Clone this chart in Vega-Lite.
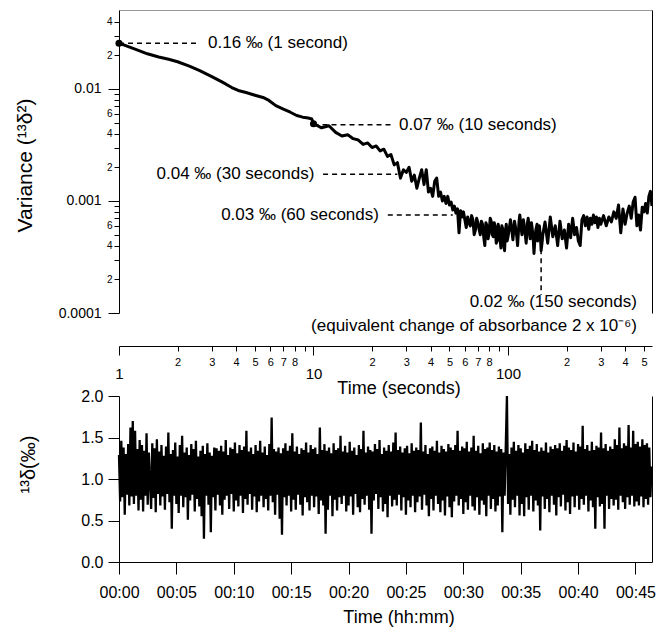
{
"$schema":"https://vega.github.io/schema/vega-lite/v6.json",
"padding":{"top":10,"left":14,"right":10,"bottom":4},
"bounds":"flush",
"spacing":83,
"config":{"view":{"stroke":null},"font":"Liberation Sans","axis":{"grid":false,"domainColor":"black","tickColor":"black","labelColor":"black","titleColor":"black","titleFontWeight":"normal","labelFont":"Liberation Sans","titleFont":"Liberation Sans","labelOverlap":false,"labelFlush":false}},
"vconcat":[
{
"width":533,"height":303,
"layer":[
{
"data":{"values":[
{"t":1,"v":0.0256},{"t":1.2,"v":0.0228},{"t":1.4,"v":0.0206},{"t":1.6,"v":0.0193},{"t":1.8,"v":0.0184},{"t":2.0,"v":0.0175},{"t":2.3,"v":0.0160},{"t":2.6,"v":0.0146},{"t":3.0,"v":0.0129},{"t":3.4,"v":0.0115},{"t":3.8,"v":0.0103},{"t":4.1,"v":0.0097},{"t":4.5,"v":0.0093},{"t":5.0,"v":0.0088},{"t":5.5,"v":0.0084},{"t":5.9,"v":0.0079},{"t":6.4,"v":0.0071},{"t":7.0,"v":0.0066},{"t":7.6,"v":0.0062},{"t":8.2,"v":0.0058},{"t":8.8,"v":0.0056},{"t":9.4,"v":0.0055},{"t":9.8,"v":0.0054},{"t":10,"v":0.0049},{"t":10.5,"v":0.0047},
{"t":11,"v":0.0045},{"t":12,"v":0.0047},{"t":13,"v":0.0041},{"t":14,"v":0.0038},{"t":15,"v":0.0039},{"t":16,"v":0.0036},{"t":17,"v":0.0035},{"t":18,"v":0.0032},{"t":19,"v":0.0033},{"t":20,"v":0.0030},{"t":21,"v":0.0031},{"t":22,"v":0.0028},{"t":23,"v":0.0029},{"t":24,"v":0.0025},{"t":25,"v":0.0026},{"t":26,"v":0.0021},{"t":27,"v":0.0022},{"t":28,"v":0.0016},{"t":29,"v":0.0019},{"t":30,"v":0.0018},{"t":31,"v":0.0020},{"t":32,"v":0.0015},{"t":33,"v":0.0017},{"t":34,"v":0.0013},{"t":35,"v":0.0016},{"t":36,"v":0.0019},{"t":37,"v":0.0014},{"t":38,"v":0.0019},{"t":39,"v":0.0012},{"t":40,"v":0.0013},{"t":41,"v":0.0011},{"t":42,"v":0.0015},{"t":43,"v":0.0016},{"t":44,"v":0.0011},{"t":45,"v":0.0012},{"t":46,"v":0.0010},{"t":47,"v":0.0011},{"t":48,"v":0.00095},{"t":49,"v":0.0011},{"t":50,"v":0.00092},{"t":51,"v":0.00098},{"t":52,"v":0.00083},{"t":53,"v":0.00090},{"t":54,"v":0.00078},{"t":55,"v":0.00085},{"t":56,"v":0.00052},{"t":57,"v":0.00082},{"t":58,"v":0.00072},{"t":59,"v":0.00080},{"t":60,"v":0.00068},
{"t":61,"v":0.00058},{"t":62,"v":0.00072},{"t":63,"v":0.00064},{"t":64,"v":0.00060},{"t":65,"v":0.00074},{"t":66,"v":0.00068},{"t":67,"v":0.00050},{"t":68,"v":0.00055},{"t":69,"v":0.00070},{"t":70,"v":0.00064},{"t":71,"v":0.00056},{"t":72,"v":0.00050},{"t":73,"v":0.00066},{"t":74,"v":0.00062},{"t":75,"v":0.00048},{"t":76,"v":0.00040},{"t":77,"v":0.00064},{"t":78,"v":0.00060},{"t":79,"v":0.00046},{"t":80,"v":0.00052},{"t":81,"v":0.00070},{"t":82,"v":0.00066},{"t":83,"v":0.00050},{"t":84,"v":0.00048},{"t":85,"v":0.00064},{"t":86,"v":0.00058},{"t":87,"v":0.00042},{"t":88,"v":0.00044},{"t":89,"v":0.00062},{"t":90,"v":0.00055},{"t":91,"v":0.00046},{"t":92,"v":0.00038},{"t":93,"v":0.00060},{"t":94,"v":0.00056},{"t":95,"v":0.00042},{"t":96,"v":0.00036},{"t":97,"v":0.00054},{"t":98,"v":0.00062},{"t":99,"v":0.00044},{"t":100,"v":0.00048},
{"t":102,"v":0.00060},{"t":103,"v":0.00068},{"t":105,"v":0.00052},{"t":106,"v":0.00045},{"t":108,"v":0.00066},{"t":109,"v":0.00060},{"t":111,"v":0.00048},{"t":112,"v":0.00040},{"t":114,"v":0.00066},{"t":115,"v":0.00075},{"t":117,"v":0.00056},{"t":118,"v":0.00050},{"t":120,"v":0.00068},{"t":121,"v":0.00062},{"t":123,"v":0.00048},{"t":124,"v":0.00042},{"t":126,"v":0.00064},{"t":127,"v":0.00070},{"t":129,"v":0.00052},{"t":130,"v":0.00046},{"t":132,"v":0.00064},{"t":133,"v":0.00058},{"t":135,"v":0.00044},{"t":136,"v":0.00034},{"t":138,"v":0.00050},{"t":139,"v":0.00055},{"t":141,"v":0.00062},{"t":142,"v":0.00044},{"t":144,"v":0.00052},{"t":145,"v":0.00060},{"t":147,"v":0.00046},{"t":148,"v":0.00036},{"t":150,"v":0.00044},{"t":151,"v":0.00050},
{"t":155,"v":0.00065},{"t":160,"v":0.00042},{"t":165,"v":0.00072},{"t":170,"v":0.00048},{"t":175,"v":0.00060},{"t":180,"v":0.00040},{"t":185,"v":0.00066},{"t":190,"v":0.00046},{"t":195,"v":0.00055},{"t":200,"v":0.00038},{"t":205,"v":0.00062},{"t":210,"v":0.00047},{"t":215,"v":0.00070},{"t":220,"v":0.00050},{"t":225,"v":0.00058},{"t":230,"v":0.00044},{"t":235,"v":0.00040},{"t":240,"v":0.00068},{"t":245,"v":0.00074},{"t":250,"v":0.00060},{"t":255,"v":0.00072},{"t":260,"v":0.00056},{"t":265,"v":0.00070},{"t":270,"v":0.00062},{"t":275,"v":0.00075},{"t":280,"v":0.00064},{"t":285,"v":0.00072},{"t":290,"v":0.00058},{"t":295,"v":0.00070},{"t":300,"v":0.00062},
{"t":310,"v":0.00074},{"t":320,"v":0.00060},{"t":330,"v":0.00072},{"t":340,"v":0.00065},{"t":350,"v":0.00080},{"t":360,"v":0.00070},{"t":370,"v":0.00092},{"t":380,"v":0.00052},{"t":390,"v":0.00085},{"t":400,"v":0.00062},{"t":410,"v":0.00078},{"t":420,"v":0.00090},{"t":430,"v":0.00070},{"t":440,"v":0.00098},{"t":450,"v":0.00108},{"t":460,"v":0.00060},{"t":470,"v":0.00075},{"t":480,"v":0.00055},{"t":490,"v":0.00088},{"t":500,"v":0.00080},{"t":510,"v":0.00095},{"t":520,"v":0.00078},{"t":530,"v":0.00110},{"t":540,"v":0.00122},{"t":550,"v":0.00090}
]},
"mark":{"type":"line","color":"black","strokeWidth":3,"strokeJoin":"round","clip":true},
"encoding":{
"x":{"field":"t","type":"quantitative","scale":{"type":"log","domain":[1,550],"nice":false},
"axis":{"title":"Time (seconds)","offset":33,"values":[1,2,3,4,5,6,7,8,9,10,20,30,40,50,60,70,80,90,100,200,300,400,500],
"labelExpr":"round(datum.value/pow(10,floor(log(datum.value)/LN10+1e-6)))==1 ? ''+datum.value : (round(datum.value/pow(10,floor(log(datum.value)/LN10+1e-6)))<9 ? ''+round(datum.value/pow(10,floor(log(datum.value)/LN10+1e-6))) : '')",
"labelFontSize":{"condition":{"test":"round(datum.value/pow(10,floor(log(datum.value)/LN10+1e-6)))==1","value":15},"value":11},
"tickSize":{"condition":{"test":"round(datum.value/pow(10,floor(log(datum.value)/LN10+1e-6)))==1","value":9},"value":5},
"labelPadding":{"condition":{"test":"round(datum.value/pow(10,floor(log(datum.value)/LN10+1e-6)))==1","value":11},"value":5},
"titleFontSize":18,"titleX":279.5,"titleY":42,"titleBaseline":"middle"}},
"y":{"field":"v","type":"quantitative","scale":{"type":"log","domain":[0.0001,0.0507],"nice":false},
"axis":{"title":"Variance (¹³δ²)","values":[0.0001,0.0002,0.0003,0.0004,0.0005,0.0006,0.0007,0.0008,0.0009,0.001,0.002,0.003,0.004,0.005,0.006,0.007,0.008,0.009,0.01,0.02,0.03,0.04],
"labelExpr":"round(datum.value/pow(10,floor(log(datum.value)/LN10+1e-6)))==1 ? ''+datum.value : ((round(datum.value/pow(10,floor(log(datum.value)/LN10+1e-6)))==2 || round(datum.value/pow(10,floor(log(datum.value)/LN10+1e-6)))==4 || round(datum.value/pow(10,floor(log(datum.value)/LN10+1e-6)))==6) ? ''+round(datum.value/pow(10,floor(log(datum.value)/LN10+1e-6))) : '')",
"labelFontSize":{"condition":{"test":"round(datum.value/pow(10,floor(log(datum.value)/LN10+1e-6)))==1","value":14},"value":10},
"tickSize":{"condition":{"test":"round(datum.value/pow(10,floor(log(datum.value)/LN10+1e-6)))==1","value":11},"value":5},
"labelPadding":{"condition":{"test":"round(datum.value/pow(10,floor(log(datum.value)/LN10+1e-6)))==1","value":7},"value":2},
"titleFontSize":21,"titleX":-93.5,"titleY":155,"titleBaseline":"middle"}}
}
},
{
"data":{"values":[{"x1":1,"x2":2.6,"y":0.0256},{"x1":10,"x2":25.6,"y":0.0048},{"x1":11.2,"x2":27,"y":0.00173},{"x1":24.1,"x2":52,"y":0.00075}]},
"mark":{"type":"rule","color":"black","strokeWidth":1.5,"strokeDash":[5,4]},
"encoding":{
"x":{"field":"x1","type":"quantitative","axis":{"orient":"top","ticks":false,"labels":false,"title":null,"domainColor":"#999999"}},
"x2":{"field":"x2"},
"y":{"field":"y","type":"quantitative","axis":{"orient":"right","ticks":false,"labels":false,"title":null,"domainColor":"black"}}
}
},
{
"data":{"values":[{"x":148,"y1":0.00037,"y2":0.000145}]},
"mark":{"type":"rule","color":"black","strokeWidth":1.5,"strokeDash":[5,4]},
"encoding":{"x":{"field":"x","type":"quantitative","axis":null},"y":{"field":"y1","type":"quantitative","axis":null},"y2":{"field":"y2"}}
},
{
"data":{"values":[{"t":1,"v":0.0256},{"t":10,"v":0.0049}]},
"mark":{"type":"point","filled":true,"color":"black","size":50,"opacity":1},
"encoding":{"x":{"field":"t","type":"quantitative","axis":null},"y":{"field":"v","type":"quantitative","axis":null}}
},
{
"data":{"values":[{"t":2.87,"v":0.0256,"label":"0.16 ‰ (1 second)"},{"t":27.5,"v":0.0048,"label":"0.07 ‰ (10 seconds)"}]},
"mark":{"type":"text","align":"left","baseline":"middle","fontSize":17,"font":"Liberation Sans","color":"black"},
"encoding":{"x":{"field":"t","type":"quantitative","axis":null},"y":{"field":"v","type":"quantitative","axis":null},"text":{"field":"label"}}
},
{
"data":{"values":[{"t":10.1,"v":0.00174,"label":"0.04 ‰ (30 seconds)"},{"t":21.7,"v":0.00075,"label":"0.03 ‰ (60 seconds)"},{"t":460,"v":0.000125,"label":"0.02 ‰ (150 seconds)"},{"t":460,"v":0.0000766,"label":"(equivalent change of absorbance 2 x 10⁻⁶)"}]},
"mark":{"type":"text","align":"right","baseline":"middle","fontSize":17,"font":"Liberation Sans","color":"black"},
"encoding":{"x":{"field":"t","type":"quantitative","axis":null},"y":{"field":"v","type":"quantitative","axis":null},"text":{"field":"label"}}
}
],
"resolve":{"axis":{"x":"independent","y":"independent"}}
},
{
"width":533,"height":166,
"layer":[
{
"data":{"values":[
{"t":0.0,"v":1.29},{"t":0.1,"v":0.73},{"t":0.2,"v":1.46},{"t":0.3,"v":0.78},{"t":0.4,"v":1.38},{"t":0.5,"v":0.57},{"t":0.6,"v":1.30},{"t":0.7,"v":0.81},{"t":0.8,"v":1.42},{"t":0.9,"v":0.68},
{"t":1.0,"v":1.62},{"t":1.1,"v":0.79},{"t":1.2,"v":1.70},{"t":1.3,"v":0.70},{"t":1.4,"v":1.58},{"t":1.5,"v":0.80},{"t":1.6,"v":1.36},{"t":1.7,"v":0.62},{"t":1.8,"v":1.47},{"t":1.9,"v":0.75},
{"t":2.0,"v":1.41},{"t":2.1,"v":0.61},{"t":2.2,"v":1.34},{"t":2.3,"v":0.80},{"t":2.4,"v":1.55},{"t":2.5,"v":0.69},{"t":2.6,"v":1.32},{"t":2.8,"v":0.64},{"t":2.9,"v":1.43},
{"t":3.0,"v":0.77},{"t":3.1,"v":1.37},{"t":3.2,"v":0.60},{"t":3.3,"v":1.48},{"t":3.4,"v":0.82},{"t":3.5,"v":1.33},{"t":3.6,"v":0.68},{"t":3.7,"v":1.41},{"t":3.8,"v":0.79},{"t":3.9,"v":1.28},
{"t":4.0,"v":0.63},{"t":4.1,"v":1.39},{"t":4.2,"v":0.82},{"t":4.3,"v":1.56},{"t":4.4,"v":0.72},{"t":4.5,"v":1.30},{"t":4.6,"v":0.40},{"t":4.7,"v":1.35},{"t":4.8,"v":0.80},{"t":4.9,"v":1.44},
{"t":5.0,"v":0.70},{"t":5.1,"v":1.27},{"t":5.2,"v":0.59},{"t":5.3,"v":1.41},{"t":5.4,"v":0.80},{"t":5.5,"v":1.52},{"t":5.6,"v":0.66},{"t":5.7,"v":1.32},{"t":5.8,"v":0.78},{"t":5.9,"v":1.38},
{"t":6.0,"v":0.51},{"t":6.1,"v":1.29},{"t":6.2,"v":0.74},{"t":6.3,"v":1.42},{"t":6.4,"v":0.81},{"t":6.5,"v":1.36},{"t":6.6,"v":0.61},{"t":6.7,"v":1.46},{"t":6.8,"v":0.76},{"t":6.9,"v":1.27},
{"t":7.0,"v":0.67},{"t":7.1,"v":1.34},{"t":7.2,"v":0.55},{"t":7.3,"v":1.40},{"t":7.4,"v":0.28},{"t":7.5,"v":1.30},{"t":7.6,"v":0.80},{"t":7.7,"v":1.43},{"t":7.8,"v":0.69},{"t":7.9,"v":1.32},
{"t":8.0,"v":0.36},{"t":8.1,"v":1.28},{"t":8.2,"v":0.78},{"t":8.3,"v":1.38},{"t":8.4,"v":0.62},{"t":8.5,"v":1.37},{"t":8.6,"v":0.81},{"t":8.7,"v":1.34},{"t":8.8,"v":0.68},{"t":8.9,"v":1.40},
{"t":9.0,"v":0.57},{"t":9.1,"v":1.33},{"t":9.2,"v":0.75},{"t":9.3,"v":1.47},{"t":9.4,"v":0.80},{"t":9.5,"v":1.29},{"t":9.6,"v":0.64},{"t":9.7,"v":1.38},{"t":9.8,"v":0.82},{"t":9.9,"v":1.36},
{"t":10.0,"v":0.61},{"t":10.1,"v":1.44},{"t":10.2,"v":0.74},{"t":10.3,"v":1.31},{"t":10.4,"v":0.67},{"t":10.5,"v":1.41},{"t":10.6,"v":0.80},{"t":10.7,"v":1.35},{"t":10.8,"v":0.59},{"t":10.9,"v":1.39},
{"t":11.0,"v":0.76},{"t":11.1,"v":1.58},{"t":11.2,"v":0.69},{"t":11.3,"v":1.33},{"t":11.4,"v":0.82},{"t":11.5,"v":1.38},{"t":11.6,"v":0.63},{"t":11.7,"v":1.30},{"t":11.8,"v":0.79},{"t":11.9,"v":1.41},
{"t":12.0,"v":0.60},{"t":12.1,"v":1.34},{"t":12.2,"v":0.73},{"t":12.3,"v":1.46},{"t":12.4,"v":0.80},{"t":12.5,"v":1.32},{"t":12.6,"v":0.66},{"t":12.7,"v":1.39},{"t":12.8,"v":0.76},{"t":12.9,"v":1.29},
{"t":13.0,"v":0.62},{"t":13.1,"v":1.42},{"t":13.2,"v":0.80},{"t":13.3,"v":1.74},{"t":13.4,"v":0.72},{"t":13.5,"v":1.36},{"t":13.6,"v":0.57},{"t":13.7,"v":1.33},{"t":13.8,"v":0.81},{"t":13.9,"v":1.38},
{"t":14.0,"v":0.52},{"t":14.1,"v":1.31},{"t":14.2,"v":0.33},{"t":14.3,"v":1.37},{"t":14.4,"v":0.78},{"t":14.5,"v":1.43},{"t":14.6,"v":0.68},{"t":14.7,"v":1.34},{"t":14.8,"v":0.80},{"t":14.9,"v":1.40},
{"t":15.0,"v":0.61},{"t":15.1,"v":1.55},{"t":15.2,"v":0.75},{"t":15.3,"v":1.33},{"t":15.4,"v":0.63},{"t":15.5,"v":1.39},{"t":15.6,"v":0.81},{"t":15.7,"v":1.30},{"t":15.8,"v":0.69},{"t":15.9,"v":1.37},
{"t":16.0,"v":0.56},{"t":16.1,"v":1.35},{"t":16.2,"v":0.78},{"t":16.3,"v":1.44},{"t":16.4,"v":0.72},{"t":16.5,"v":1.32},{"t":16.6,"v":0.62},{"t":16.7,"v":1.41},{"t":16.8,"v":0.80},{"t":16.9,"v":1.36},
{"t":17.0,"v":0.66},{"t":17.1,"v":1.38},{"t":17.2,"v":0.79},{"t":17.3,"v":1.30},{"t":17.4,"v":0.58},{"t":17.5,"v":1.62},{"t":17.6,"v":0.74},{"t":17.7,"v":1.35},{"t":17.8,"v":0.68},{"t":17.9,"v":1.42},
{"t":18.0,"v":0.34},{"t":18.1,"v":1.34},{"t":18.2,"v":0.63},{"t":18.3,"v":1.38},{"t":18.4,"v":0.80},{"t":18.5,"v":1.31},{"t":18.6,"v":0.55},{"t":18.7,"v":1.43},{"t":18.8,"v":0.75},{"t":18.9,"v":1.35},
{"t":19.0,"v":0.62},{"t":19.1,"v":1.37},{"t":19.2,"v":0.78},{"t":19.3,"v":1.52},{"t":19.4,"v":0.70},{"t":19.5,"v":1.33},{"t":19.6,"v":0.80},{"t":19.7,"v":1.40},{"t":19.8,"v":0.61},{"t":19.9,"v":1.32},
{"t":20.0,"v":0.68},{"t":20.1,"v":1.45},{"t":20.2,"v":0.79},{"t":20.3,"v":1.34},{"t":20.4,"v":0.57},{"t":20.5,"v":1.38},{"t":20.6,"v":0.82},{"t":20.7,"v":1.29},{"t":20.8,"v":0.66},{"t":20.9,"v":1.41},
{"t":21.0,"v":0.60},{"t":21.1,"v":1.36},{"t":21.2,"v":0.76},{"t":21.3,"v":1.58},{"t":21.4,"v":0.69},{"t":21.5,"v":1.32},{"t":21.6,"v":0.80},{"t":21.7,"v":1.39},{"t":21.8,"v":0.63},{"t":21.9,"v":1.35},
{"t":22.0,"v":0.34},{"t":22.1,"v":1.33},{"t":22.2,"v":0.74},{"t":22.3,"v":1.42},{"t":22.4,"v":0.82},{"t":22.5,"v":1.36},{"t":22.6,"v":0.64},{"t":22.7,"v":1.47},{"t":22.8,"v":0.78},{"t":22.9,"v":1.30},
{"t":23.0,"v":0.61},{"t":23.1,"v":1.38},{"t":23.2,"v":0.70},{"t":23.3,"v":1.34},{"t":23.4,"v":0.54},{"t":23.5,"v":1.41},{"t":23.6,"v":0.80},{"t":23.7,"v":1.33},{"t":23.8,"v":0.67},{"t":23.9,"v":1.44},
{"t":24.0,"v":0.75},{"t":24.1,"v":1.56},{"t":24.2,"v":0.68},{"t":24.3,"v":1.35},{"t":24.4,"v":0.81},{"t":24.5,"v":1.39},{"t":24.6,"v":0.62},{"t":24.7,"v":1.32},{"t":24.8,"v":0.78},{"t":24.9,"v":1.37},
{"t":25.0,"v":0.57},{"t":25.1,"v":1.40},{"t":25.2,"v":0.74},{"t":25.3,"v":1.31},{"t":25.4,"v":0.66},{"t":25.5,"v":1.43},{"t":25.6,"v":0.80},{"t":25.7,"v":1.34},{"t":25.8,"v":0.60},{"t":25.9,"v":1.38},
{"t":26.0,"v":0.72},{"t":26.1,"v":1.35},{"t":26.2,"v":0.79},{"t":26.3,"v":1.68},{"t":26.4,"v":0.63},{"t":26.5,"v":1.33},{"t":26.6,"v":0.81},{"t":26.7,"v":1.41},{"t":26.8,"v":0.68},{"t":26.9,"v":1.30},
{"t":27.0,"v":0.55},{"t":27.1,"v":1.37},{"t":27.2,"v":0.76},{"t":27.3,"v":1.39},{"t":27.4,"v":0.62},{"t":27.5,"v":1.34},{"t":27.6,"v":0.80},{"t":27.7,"v":1.46},{"t":27.8,"v":0.70},{"t":27.9,"v":1.32},
{"t":28.0,"v":0.60},{"t":28.1,"v":1.40},{"t":28.2,"v":0.74},{"t":28.3,"v":1.36},{"t":28.4,"v":0.56},{"t":28.5,"v":1.33},{"t":28.6,"v":0.79},{"t":28.7,"v":1.42},{"t":28.8,"v":0.66},{"t":28.9,"v":1.38},
{"t":29.0,"v":0.54},{"t":29.1,"v":1.35},{"t":29.2,"v":0.73},{"t":29.3,"v":1.41},{"t":29.4,"v":0.80},{"t":29.5,"v":1.58},{"t":29.6,"v":0.68},{"t":29.7,"v":1.34},{"t":29.8,"v":0.76},{"t":29.9,"v":1.39},
{"t":30.0,"v":0.58},{"t":30.1,"v":1.37},{"t":30.2,"v":0.72},{"t":30.3,"v":1.45},{"t":30.4,"v":0.63},{"t":30.5,"v":1.33},{"t":30.6,"v":0.80},{"t":30.7,"v":1.38},{"t":30.8,"v":0.67},{"t":30.9,"v":1.52},
{"t":31.0,"v":0.62},{"t":31.1,"v":1.34},{"t":31.2,"v":0.78},{"t":31.3,"v":1.40},{"t":31.4,"v":0.57},{"t":31.5,"v":1.31},{"t":31.6,"v":0.74},{"t":31.7,"v":1.43},{"t":31.8,"v":0.69},{"t":31.9,"v":1.36},
{"t":32.0,"v":0.55},{"t":32.1,"v":1.38},{"t":32.2,"v":0.80},{"t":32.3,"v":1.44},{"t":32.4,"v":0.64},{"t":32.5,"v":1.35},{"t":32.6,"v":0.76},{"t":32.7,"v":1.41},{"t":32.8,"v":0.61},{"t":32.9,"v":1.33},
{"t":33.0,"v":0.68},{"t":33.1,"v":1.39},{"t":33.2,"v":0.79},{"t":33.3,"v":1.36},{"t":33.4,"v":0.36},{"t":33.5,"v":1.32},{"t":33.6,"v":0.80},{"t":33.8,"v":2.00},{"t":33.9,"v":0.70},
{"t":34.0,"v":1.30},{"t":34.1,"v":0.57},{"t":34.2,"v":1.38},{"t":34.3,"v":0.75},{"t":34.4,"v":1.45},{"t":34.5,"v":0.66},{"t":34.6,"v":1.34},{"t":34.7,"v":0.80},{"t":34.8,"v":1.41},{"t":34.9,"v":0.56},
{"t":35.0,"v":1.37},{"t":35.1,"v":0.70},{"t":35.2,"v":1.32},{"t":35.3,"v":0.55},{"t":35.4,"v":1.43},{"t":35.5,"v":0.78},{"t":35.6,"v":1.36},{"t":35.7,"v":0.63},{"t":35.8,"v":1.40},{"t":35.9,"v":0.80},
{"t":36.0,"v":1.46},{"t":36.1,"v":0.61},{"t":36.2,"v":1.35},{"t":36.3,"v":0.74},{"t":36.4,"v":1.42},{"t":36.5,"v":0.68},{"t":36.6,"v":1.33},{"t":36.7,"v":0.38},{"t":36.8,"v":1.38},{"t":36.9,"v":0.79},
{"t":37.0,"v":1.34},{"t":37.1,"v":0.64},{"t":37.2,"v":1.44},{"t":37.3,"v":0.76},{"t":37.4,"v":1.32},{"t":37.5,"v":0.60},{"t":37.6,"v":1.39},{"t":37.7,"v":0.80},{"t":37.8,"v":1.36},{"t":37.9,"v":0.69},
{"t":38.0,"v":1.41},{"t":38.1,"v":0.56},{"t":38.2,"v":1.37},{"t":38.3,"v":0.78},{"t":38.4,"v":1.43},{"t":38.5,"v":0.67},{"t":38.6,"v":1.34},{"t":38.7,"v":0.81},{"t":38.8,"v":1.40},{"t":38.9,"v":0.62},
{"t":39.0,"v":1.47},{"t":39.1,"v":0.72},{"t":39.2,"v":1.38},{"t":39.3,"v":0.58},{"t":39.4,"v":1.35},{"t":39.5,"v":0.79},{"t":39.6,"v":1.44},{"t":39.7,"v":0.66},{"t":39.8,"v":1.33},{"t":39.9,"v":0.80},
{"t":40.0,"v":1.42},{"t":40.1,"v":0.63},{"t":40.2,"v":1.39},{"t":40.3,"v":0.76},{"t":40.4,"v":1.64},{"t":40.5,"v":0.69},{"t":40.6,"v":1.36},{"t":40.7,"v":0.80},{"t":40.8,"v":1.41},{"t":40.9,"v":0.61},
{"t":41.0,"v":1.34},{"t":41.1,"v":0.74},{"t":41.2,"v":1.45},{"t":41.3,"v":0.66},{"t":41.4,"v":1.35},{"t":41.5,"v":0.40},{"t":41.6,"v":1.40},{"t":41.7,"v":0.78},{"t":41.8,"v":1.38},{"t":41.9,"v":0.67},
{"t":42.0,"v":1.56},{"t":42.1,"v":0.70},{"t":42.2,"v":1.37},{"t":42.3,"v":0.40},{"t":42.4,"v":1.42},{"t":42.5,"v":0.80},{"t":42.6,"v":1.34},{"t":42.7,"v":0.64},{"t":42.8,"v":1.39},{"t":42.9,"v":0.76},
{"t":43.0,"v":1.36},{"t":43.1,"v":0.68},{"t":43.2,"v":1.48},{"t":43.3,"v":0.75},{"t":43.4,"v":1.41},{"t":43.5,"v":0.63},{"t":43.6,"v":1.62},{"t":43.7,"v":0.80},{"t":43.8,"v":1.37},{"t":43.9,"v":0.72},
{"t":44.0,"v":1.43},{"t":44.1,"v":0.64},{"t":44.2,"v":1.40},{"t":44.3,"v":0.78},{"t":44.4,"v":1.65},{"t":44.5,"v":0.69},{"t":44.6,"v":1.38},{"t":44.7,"v":0.80},{"t":44.8,"v":1.58},{"t":44.9,"v":0.67},
{"t":45.0,"v":1.42},{"t":45.1,"v":0.73},{"t":45.2,"v":1.45},{"t":45.3,"v":0.68},{"t":45.4,"v":1.39},{"t":45.5,"v":0.79},{"t":45.6,"v":1.48},{"t":45.7,"v":0.66},{"t":45.8,"v":1.41},{"t":45.9,"v":0.76},
{"t":46.0,"v":1.43},{"t":46.1,"v":0.69},{"t":46.2,"v":1.38},{"t":46.3,"v":0.78},{"t":46.4,"v":1.15}
]},
"mark":{"type":"line","color":"black","strokeWidth":2.3},
"encoding":{
"x":{"field":"t","type":"quantitative","scale":{"domain":[0,46.44],"nice":false,"zero":false},
"axis":{"title":"Time (hh:mm)","values":[0,5,10,15,20,25,30,35,40,45],"labelExpr":"'00:' + (datum.value < 10 ? '0' : '') + datum.value","tickSize":12,"labelPadding":10,"labelFontSize":16,"titleFontSize":18,"titleX":279.5,"titleY":55,"titleBaseline":"middle"}},
"y":{"field":"v","type":"quantitative","scale":{"domain":[0,2],"nice":false},
"axis":{"title":"¹³δ(‰)","values":[0,0.5,1,1.5,2],"format":".1f","tickSize":11,"labelPadding":5,"labelFontSize":16,"titleFontSize":20,"titleX":-90.5,"titleY":68,"titleBaseline":"middle"}}
}
},
{
"data":{"values":[{"t":0,"v":0}]},
"mark":{"type":"point","opacity":0},
"encoding":{"x":{"field":"t","type":"quantitative","axis":null},"y":{"field":"v","type":"quantitative","axis":{"orient":"right","ticks":false,"labels":false,"title":null,"domainColor":"black"}}}
}
],
"resolve":{"axis":{"x":"independent","y":"independent"}}
}
]
}
